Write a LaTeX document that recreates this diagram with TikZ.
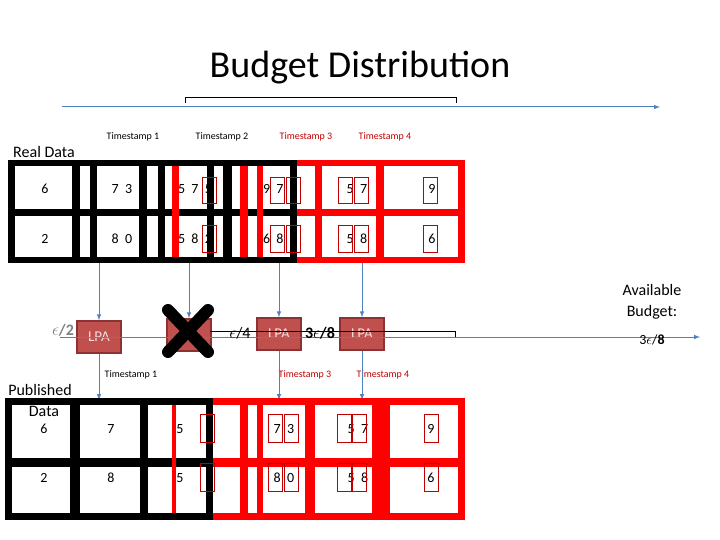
\documentclass[tikz,border=0pt]{standalone}
\usepackage{fontspec}
\setmainfont{Carlito}
\usetikzlibrary{positioning}
\definecolor{budgetblue}{RGB}{79,129,189}
\definecolor{lpafill}{RGB}{192,80,77}
\definecolor{lpaedge}{RGB}{140,50,50}
\definecolor{tsred}{RGB}{192,0,0}
\definecolor{cellred}{RGB}{255,0,0}
\tikzset{
  lpabox/.style={fill=lpafill,draw=lpaedge,line width=1.5pt,minimum width=44pt,minimum height=32pt,text=white!80!lpafill,font=\fontsize{15}{17}\selectfont},
  stamp/.style={font=\fontsize{10}{12}\selectfont},
  cellnum/.style={font=\fontsize{14}{16}\selectfont},
  biglabel/.style={font=\fontsize{16}{19}\selectfont},
  boldlabel/.style={font=\fontsize{16}{19}\selectfont\bfseries},
  flow/.style={budgetblue,line width=1pt}
}
% small red marker box
\newcommand{\markbox}[3]{\draw[tsred,line width=0.6pt] (#1,#2) rectangle (#1+14,#3);}

\begin{document}
\begin{tikzpicture}[x=1pt,y=-1pt]
\useasboundingbox (0,0) rectangle (720,540);

\node[font=\fontsize{38}{44}\selectfont] (title) at (360,68) {Budget Distribution};
\draw[flow,-latex] (62,107) -- (660,107);
\draw[thin] (185,103) -- (185,97) -- (456,97) -- (456,103);

\node[stamp] (t1) at (133,137) {Timestamp 1};
\node[stamp] (t2) at (222,137) {Timestamp 2};
\node[stamp,tsred] (t3) at (306,137) {Timestamp 3};
\node[stamp,tsred] (t4) at (385,137) {Timestamp 4};
\node[biglabel] (real) at (44,152) {Real Data};

%real data, red part
\fill[cellred] (172,160) rectangle (465,263);
\foreach \a/\b in {180/240,248/257,263/315,322/376,384/458}{
  \fill[white] (\a,166) rectangle (\b,209);
  \fill[white] (\a,216) rectangle (\b,257);
}
%real data, black part
\fill[black] (8,160) rectangle (297,263);
\foreach \a/\b in {15/72,80/90,97/139,147/158,165/207,214/223,232/290}{
  \fill[white] (\a,166) rectangle (\b,209);
  \fill[white] (\a,216) rectangle (\b,257);
}
\foreach \a/\b in {172/179,240/248,257/263}
  \fill[cellred] (\a,166) rectangle (\b,257);

\foreach \y/\ya/\yb/\c/\d/\e/\f/\g/\h in {189/177/203/6/7\ \ 3/5\ \ 7\ \ 5/9\ \ 7\ \ 9/5\ \ 7/9, 239/225/252/2/8\ \ 0/5\ \ 8\ \ 2/6\ \ 8\ \ 0/5\ \ 8/6}{
  \node[cellnum] at (45,\y) {\c};
  \node[cellnum] at (122,\y) {\d};
  \node[cellnum] at (195,\y) {\e};
  \node[cellnum] at (280,\y) {\f};
  \node[cellnum] at (357,\y) {\g};
  \node[cellnum] at (432,\y) {\h};
  \markbox{202}{\ya}{\yb}
  \markbox{270}{\ya}{\yb}
  \markbox{286}{\ya}{\yb}
  \markbox{338}{\ya}{\yb}
  \markbox{354}{\ya}{\yb}
  \markbox{423}{\ya}{\yb}
}

\coordinate (r1) at (99,263);
\coordinate (r2) at (189,263);
\coordinate (r3) at (279,263);
\coordinate (r4) at (362,263);

%mechanisms
\node[lpabox] (lpa1) at (99,337) {LPA};
\node[lpabox] (lpa2) at (189,335) {};
\node[lpabox] (lpa3) at (279,334) {LPA};
\node[lpabox] (lpa4) at (362,334) {LPA};

\draw[flow,-latex] (60,337) -- (700,337);
\draw[thin] (210,331) -- (455,331) -- (455,337);
\draw[line width=12pt,line cap=round] (168,310) -- (208,352) (208,310) -- (168,352);

\node[boldlabel,gray] (e2) at (63,330) {$\epsilon$/2};
\node[biglabel] (e4) at (240,333) {$\epsilon$/4};
\node[boldlabel] (e38) at (320,333) {3$\epsilon$/8};
\node[biglabel,align=center] (avail) at (652,302) {Available\\[2pt]Budget:};
\node[cellnum] (avb) at (652,340) {3$\epsilon$/\textbf{8}};

\foreach \r/\l in {r1/lpa1,r2/lpa2,r3/lpa3,r4/lpa4}
  \draw[flow,-latex] (\r) -- (\l);

\node[stamp] (p1) at (131,375) {Timestamp 1};
\node[stamp,tsred] (p3) at (305,375) {Timestamp 3};
\node[stamp,tsred] (p4) at (383,375) {Timestamp 4};
\node[biglabel] (pub) at (40,390) {Published};

\coordinate (q1) at (99,400);
\coordinate (q3) at (279,400);
\coordinate (q4) at (362,400);
\foreach \l/\q in {lpa1/q1,lpa3/q3,lpa4/q4}
  \draw[flow,-latex] (\l) -- (\q);

%published data, red part
\fill[cellred] (172,398) rectangle (465,520);
\foreach \a/\b in {180/240,248/257,263/305,315/372,390/458}{
  \fill[white] (\a,405) rectangle (\b,458);
  \fill[white] (\a,467) rectangle (\b,513);
}
%published data, black part
\fill[black] (5,398) rectangle (213,520);
\foreach \a/\b in {12/70,80/140,148/206}{
  \fill[white] (\a,405) rectangle (\b,458);
  \fill[white] (\a,467) rectangle (\b,513);
}
\fill[cellred] (172,405) rectangle (176,513);
\node[biglabel] (data) at (44,411) {Data};

\foreach \y/\ya/\yb/\c/\d/\e/\f/\g/\h in {429/414/442/6/7/5/7\ \ 3/5\ \ 7/9, 478/463/491/2/8/5/8\ \ 0/5\ \ 8/6}{
  \node[cellnum] at (44,\y) {\c};
  \node[cellnum] at (111,\y) {\d};
  \node[cellnum] at (180,\y) {\e};
  \node[cellnum] at (284,\y) {\f};
  \node[cellnum] at (358,\y) {\g};
  \node[cellnum] at (431,\y) {\h};
  \markbox{200}{\ya}{\yb}
  \markbox{268}{\ya}{\yb}
  \markbox{284}{\ya}{\yb}
  \markbox{337}{\ya}{\yb}
  \markbox{352}{\ya}{\yb}
  \markbox{424}{\ya}{\yb}
}
\end{tikzpicture}
\end{document}
